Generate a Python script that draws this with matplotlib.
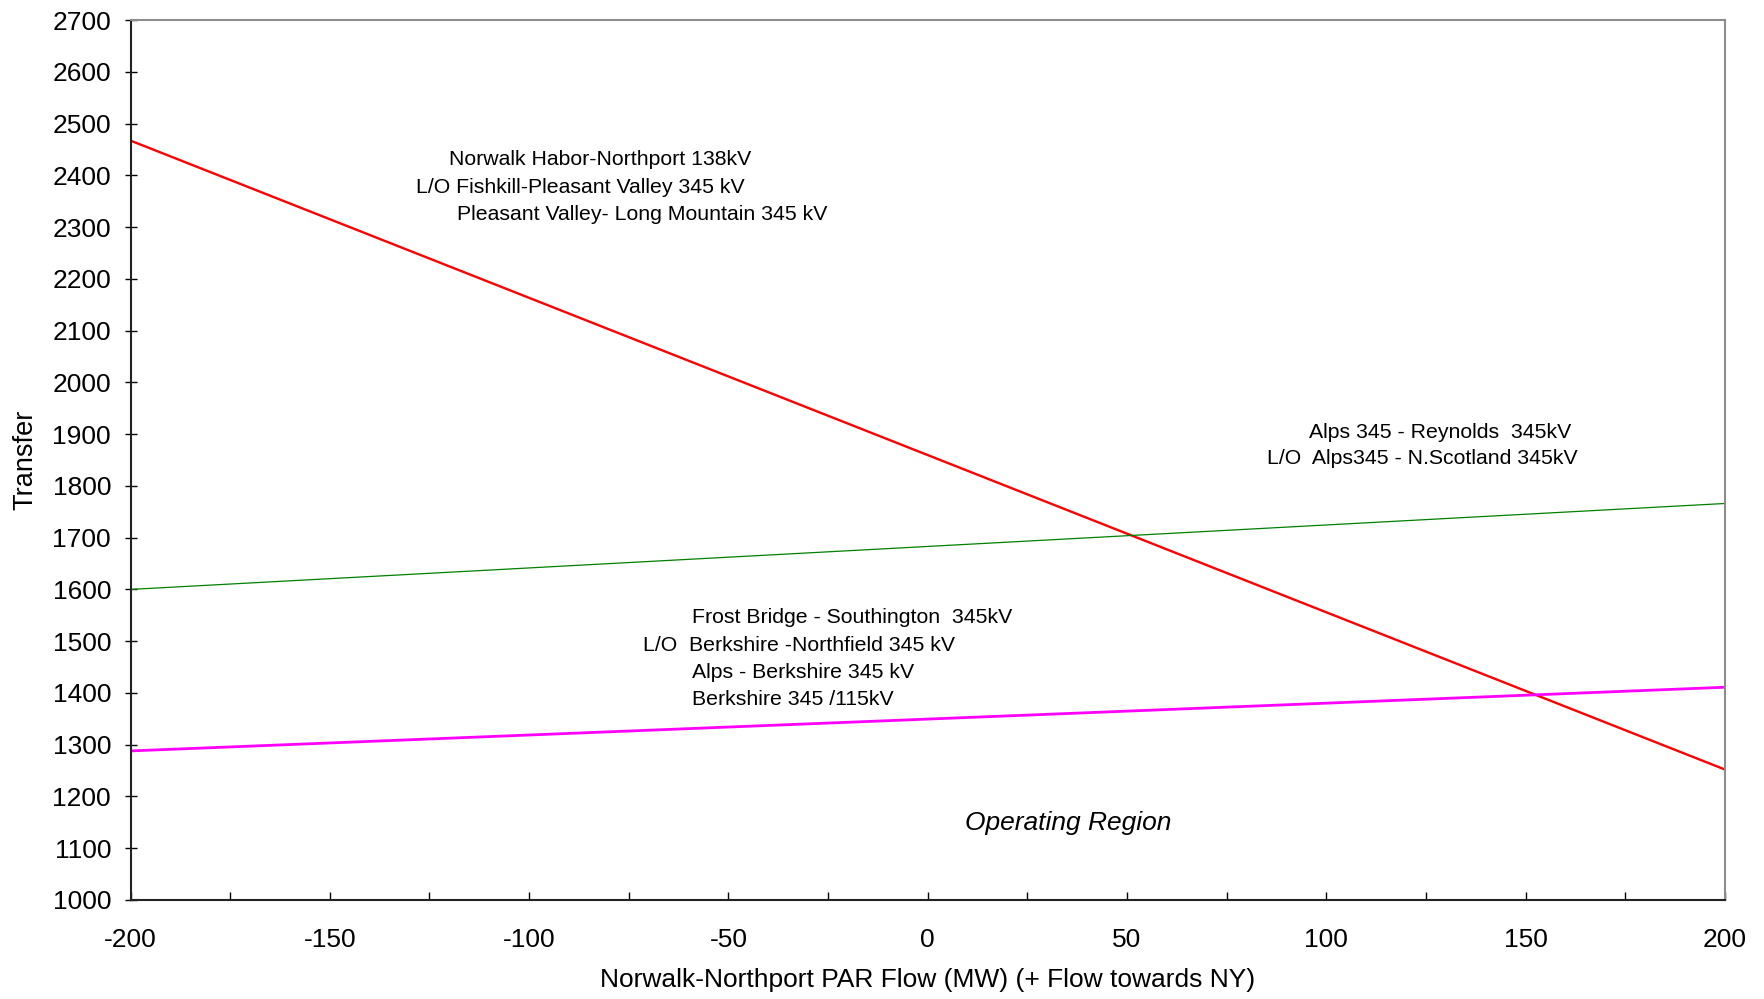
import numpy as np
import matplotlib
matplotlib.use("Agg")
import matplotlib.pyplot as plt
from matplotlib.ticker import MultipleLocator

plt.rcParams['font.family'] = ['Liberation Sans', 'DejaVu Sans']
plt.rcParams['axes.unicode_minus'] = False

# PAR flow (MW), end points of each limit line
flow = [-200, 200]
red_limit = [2467, 1252]      # Norwalk Habor-Northport 138kV
green_limit = [1600, 1766]    # Alps 345 - Reynolds 345kV
magenta_limit = [1288, 1411]  # Frost Bridge - Southington 345kV

xticks = [-200, -150, -100, -50, 0, 50, 100, 150, 200]
yticks = list(range(1000, 2701, 100))

fig = plt.figure(figsize=(17.65, 9.99), dpi=100)
ax = fig.add_axes([130.5 / 1765, 1 - 900 / 999, (1725 - 130.5) / 1765, (900 - 20) / 999])

ax.plot(flow, red_limit, color='#ff0000', lw=1.7, solid_capstyle='butt')
ax.plot(flow, green_limit, color='#008000', lw=0.9, solid_capstyle='butt')
ax.plot(flow, magenta_limit, color='#ff00ff', lw=2.0, solid_capstyle='butt')

ax.set_xlim(-200, 200)
ax.set_ylim(1000, 2700)
ax.set_xticks(xticks)
ax.set_yticks(yticks)
ax.xaxis.set_minor_locator(MultipleLocator(25))
ax.tick_params(axis='x', which='both', direction='in', length=6, width=1, pad=20, labelsize=19)
ax.tick_params(axis='y', which='major', direction='inout', length=8, width=1, pad=10, labelsize=19)

for s in ['left', 'bottom']:
    ax.spines[s].set_color('#222222')
    ax.spines[s].set_linewidth(1.5)
for s in ['top', 'right']:
    ax.spines[s].set_color('#8c8c8c')
    ax.spines[s].set_linewidth(1.5)

ax.set_xlabel('Norwalk-Northport PAR Flow (MW) (+ Flow towards NY)', fontsize=19, labelpad=12)
ax.set_ylabel('Transfer', fontsize=19.5, labelpad=10)

fs = 15.3
ax.text(-120, 2431, 'Norwalk Habor-Northport 138kV', fontsize=fs, va='center')
ax.text(-128.4, 2377, 'L/O Fishkill-Pleasant Valley 345 kV', fontsize=fs, va='center')
ax.text(-118, 2324, 'Pleasant Valley- Long Mountain 345 kV', fontsize=fs, va='center')

ax.text(95.6, 1904, 'Alps 345 - Reynolds  345kV', fontsize=fs, va='center')
ax.text(85.1, 1852, 'L/O  Alps345 - N.Scotland 345kV', fontsize=fs, va='center')

ax.text(-59.1, 1545, 'Frost Bridge - Southington  345kV', fontsize=fs, va='center')
ax.text(-71.4, 1492, 'L/O  Berkshire -Northfield 345 kV', fontsize=fs, va='center')
ax.text(-59.1, 1440, 'Alps - Berkshire 345 kV', fontsize=fs, va='center')
ax.text(-59.1, 1388, 'Berkshire 345 /115kV', fontsize=fs, va='center')

ax.text(9.3, 1149, 'Operating Region', fontsize=19, style='italic', va='center')

fig.savefig('out.png', dpi=100)
